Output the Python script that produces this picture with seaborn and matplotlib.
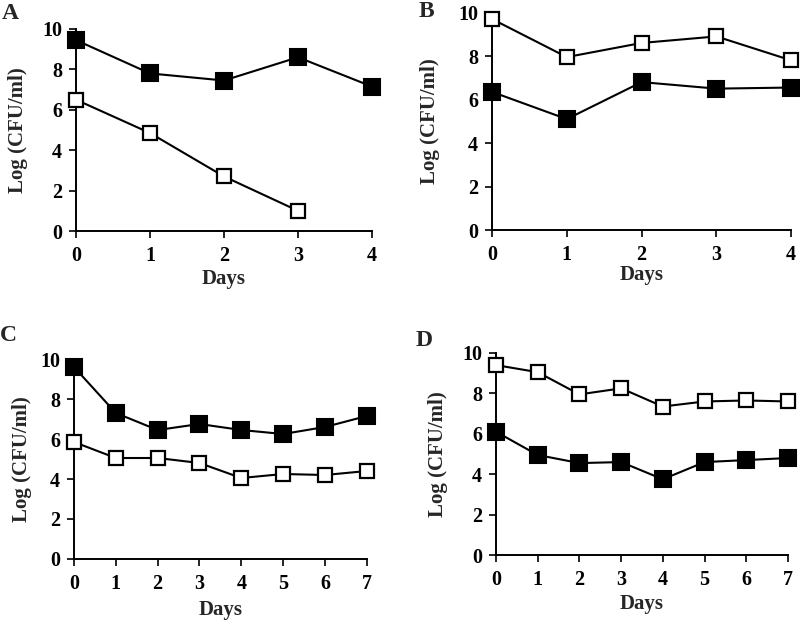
import matplotlib
matplotlib.use("Agg")
import matplotlib.pyplot as plt
import seaborn as sns
import pandas as pd

# Panel data (days, log CFU/ml)
days_a = [0, 1, 2, 3, 4]
filled_a = [9.45, 7.8, 7.45, 8.6, 7.15]
open_days_a = [0, 1, 2, 3]
open_a = [6.5, 4.85, 2.7, 1.0]

days_b = [0, 1, 2, 3, 4]
filled_b = [6.35, 5.1, 6.8, 6.5, 6.55]
open_b = [9.7, 7.95, 8.6, 8.9, 7.8]

days_cd = [0, 1, 2, 3, 4, 5, 6, 7]
filled_c = [9.6, 7.3, 6.45, 6.75, 6.45, 6.25, 6.6, 7.15]
open_c = [5.85, 5.05, 5.05, 4.8, 4.05, 4.25, 4.2, 4.4]

filled_d = [6.1, 4.95, 4.55, 4.6, 3.75, 4.6, 4.7, 4.8]
open_d = [9.4, 9.05, 7.95, 8.25, 7.35, 7.6, 7.65, 7.6]

sns.set_style("ticks")
plt.rcParams['font.family'] = ['Liberation Serif', 'DejaVu Serif']
plt.rcParams['font.weight'] = 'bold'

fig = plt.figure(figsize=(8, 6.22), dpi=100)

# panel name, axes rect, series, ylabel x, xlabel y, letter pos
panels = [
    ('A', [0.095, 0.6286, 0.370, 0.3248], days_a, filled_a, open_days_a, open_a,
     -0.162, -0.19, (0.013, 0.978)),
    ('B', [0.615, 0.6302, 0.374, 0.3497], days_b, filled_b, days_b, open_b,
     -0.174, -0.16, (0.533, 0.982)),
    ('C', [0.0925, 0.1013, 0.366, 0.3215], days_cd, filled_c, days_cd, open_c,
     -0.143, -0.205, (0.011, 0.461)),
    ('D', [0.62, 0.1077, 0.365, 0.3248], days_cd, filled_d, days_cd, open_d,
     -0.164, -0.195, (0.530, 0.453)),
]

for name, rect, xf, yf, xo, yo, ylx, xly, lpos in panels:
    ax = fig.add_axes(rect)
    df_f = pd.DataFrame({'Days': xf, 'cfu': yf})
    df_o = pd.DataFrame({'Days': xo, 'cfu': yo})
    sns.lineplot(data=df_f, x='Days', y='cfu', ax=ax, color='black', linewidth=1.5,
                 marker='s', markersize=11, markerfacecolor='black',
                 markeredgecolor='black', markeredgewidth=1.5, clip_on=False, zorder=3)
    sns.lineplot(data=df_o, x='Days', y='cfu', ax=ax, color='black', linewidth=1.5,
                 marker='s', markersize=10.5, markerfacecolor='white',
                 markeredgecolor='black', markeredgewidth=1.6, clip_on=False, zorder=3)
    ax.set_xlim(0, max(xf))
    ax.set_ylim(0, 10)
    ax.set_xticks(range(0, max(xf) + 1))
    ax.set_yticks([0, 2, 4, 6, 8, 10])
    sns.despine(ax=ax)
    for s in ['left', 'bottom']:
        ax.spines[s].set_linewidth(1.4)
        ax.spines[s].set_color('black')
    ax.tick_params(axis='both', direction='out', length=5, width=1.2, color='black',
                   labelsize=14.5, labelcolor='black')
    ax.tick_params(axis='y', pad=5)
    ax.tick_params(axis='x', pad=6)
    ax.set_ylabel('Log (CFU/ml)', fontsize=15, fontweight='bold')
    ax.set_xlabel('Days', fontsize=15, fontweight='bold')
    ax.yaxis.set_label_coords(ylx, 0.5)
    ax.xaxis.set_label_coords(0.5, xly)
    for lab in ax.get_xticklabels() + ax.get_yticklabels():
        lab.set_fontweight('bold')
    fig.text(lpos[0], lpos[1], name, fontsize=17, fontweight='bold',
             ha='center', va='center')

fig.savefig('out.png', dpi=100)
